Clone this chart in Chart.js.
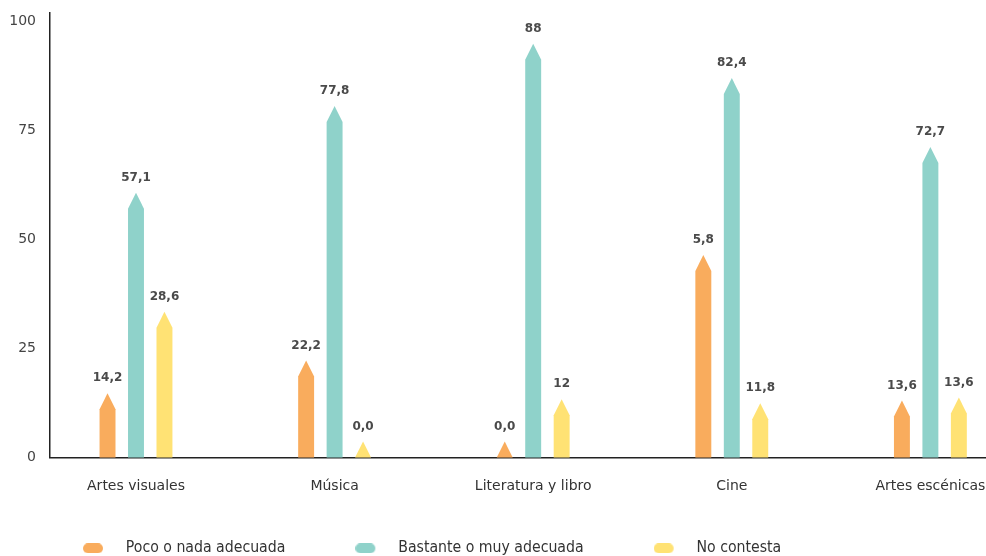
<!doctype html>
<html>
<head>
    <meta charset="UTF-8"/>
    <title>Chart</title>
    <style type="text/css">
        html, body { margin: 0; padding: 0; overflow: hidden; background: #fff; }
        .chartBox { width: 986px; height: 610px; }
    </style>
</head>
<body>
    <div class="chartBox">
        <canvas id="myChart"></canvas>
    </div>

    <script src="https://cdn.jsdelivr.net/npm/chart.js"></script>

    <script>
        const categories = ['Artes visuales', 'Música', 'Literatura y libro', 'Cine', 'Artes escénicas'];
        // bar heights as drawn in the picture
        const pocoData = [11.1, 18.6, 0, 42.8, 9.4];
        const bastanteData = [57.1, 77.0, 91.3, 83.4, 67.6];
        const noContestaData = [29.8, 0, 9.7, 8.8, 10.1];
        // the numbers printed above the bars
        const pocoLabels = ['14,2', '22,2', '0,0', '5,8', '13,6'];
        const bastanteLabels = ['57,1', '77,8', '88', '82,4', '72,7'];
        const noContestaLabels = ['28,6', '0,0', '12', '11,8', '13,6'];
        const yTicks = [0, 25, 50, 75, 100];

        // category axis whose first category is not half a slot from the y axis
        const BaseCategory = Chart.CategoryScale || Chart.registry.getScale('category');
        class ShiftedCategoryScale extends BaseCategory {
            configure() {
                super.configure();
                this._startValue = -0.433;
                this._valueRange = 4.713;
            }
        }
        ShiftedCategoryScale.id = 'shiftedCategory';
        ShiftedCategoryScale.defaults = BaseCategory.defaults;
        Chart.register(ShiftedCategoryScale);

        function pill(color) {
            const c = document.createElement('canvas');
            c.width = 35;
            c.height = 10;
            const g = c.getContext('2d');
            g.fillStyle = color;
            g.beginPath();
            g.roundRect(0, 0, 20, 10, 5);
            g.fill();
            return c;
        }

        // bars with a pointed tip, and the printed value above them
        const pointedBars = {
            id: 'pointedBars',
            afterLayout(chart) {
                // legend sits a bit in from the left and closer to the axis labels
                chart.legend.left = 13;
                chart.legend.top = 470.5;
            },
            beforeDatasetsDraw(chart) {
                const ctx = chart.ctx;
                chart.data.datasets.forEach((ds, i) => {
                    const meta = chart.getDatasetMeta(i);
                    meta.data.forEach((bar, j) => {
                        const half = bar.width / 2;
                        ctx.fillStyle = ds.backgroundColor;
                        ctx.beginPath();
                        ctx.moveTo(bar.x - half, bar.base);
                        ctx.lineTo(bar.x - half, bar.y);
                        ctx.lineTo(bar.x, bar.y - 16);
                        ctx.lineTo(bar.x + half, bar.y);
                        ctx.lineTo(bar.x + half, bar.base);
                        ctx.closePath();
                        ctx.fill();

                        ctx.fillStyle = '#4a4a4a';
                        ctx.font = 'bold 12px "DejaVu Sans"';
                        ctx.textAlign = 'center';
                        ctx.textBaseline = 'middle';
                        ctx.fillText(ds.valueLabels[j], bar.x, bar.y - 31);
                    });
                });
                return false;
            }
        };

        const data = {
            labels: categories,
            datasets: [
                {
                    label: 'Poco o nada adecuada',
                    data: pocoData,
                    valueLabels: pocoLabels,
                    backgroundColor: '#F9AC5D',
                    pointStyle: pill('#F9AC5D')
                },
                {
                    label: 'Bastante o muy adecuada',
                    data: bastanteData,
                    valueLabels: bastanteLabels,
                    backgroundColor: '#8FD2CA',
                    pointStyle: pill('#8FD2CA')
                },
                {
                    label: 'No contesta',
                    data: noContestaData,
                    valueLabels: noContestaLabels,
                    backgroundColor: '#FFE274',
                    pointStyle: pill('#FFE274')
                }
            ]
        };

        const config = {
            type: 'bar',
            data: data,
            plugins: [pointedBars],
            options: {
                responsive: true,
                maintainAspectRatio: false,
                animation: false,
                layout: { padding: { top: 13, left: 0, right: 0, bottom: 0 } },
                datasets: {
                    bar: { categoryPercentage: 0.43, barPercentage: 0.56 }
                },
                scales: {
                    x: {
                        type: 'shiftedCategory',
                        grid: { display: false, drawTicks: false },
                        border: { display: true, color: '#222', width: 1.5 },
                        ticks: {
                            padding: 20,
                            color: '#333',
                            maxRotation: 0,
                            autoSkip: false,
                            font: { family: 'DejaVu Sans', size: 14 }
                        },
                        afterFit(s) {
                            s.paddingLeft = 0;
                            s.paddingRight = 0;
                        }
                    },
                    y: {
                        min: 0,
                        max: 102,
                        grid: { display: false, drawTicks: false },
                        border: { display: true, color: '#222', width: 1.5 },
                        ticks: {
                            padding: 14,
                            color: '#444',
                            font: { family: 'DejaVu Sans', size: 14 }
                        },
                        afterBuildTicks(s) {
                            s.ticks = yTicks.map(v => ({ value: v }));
                        },
                        afterFit(s) {
                            s.width = 50;
                            s.paddingTop = 0;
                            s.paddingBottom = 0;
                        }
                    }
                },
                plugins: {
                    legend: {
                        position: 'bottom',
                        align: 'start',
                        labels: {
                            usePointStyle: true,
                            pointStyleWidth: 35,
                            padding: 70,
                            color: '#333',
                            font: { family: 'DejaVu Sans Condensed', size: 15.7 }
                        }
                    },
                    tooltip: { enabled: false }
                }
            }
        };

        const myChart = new Chart(document.getElementById('myChart'), config);
    </script>
</body>
</html>
